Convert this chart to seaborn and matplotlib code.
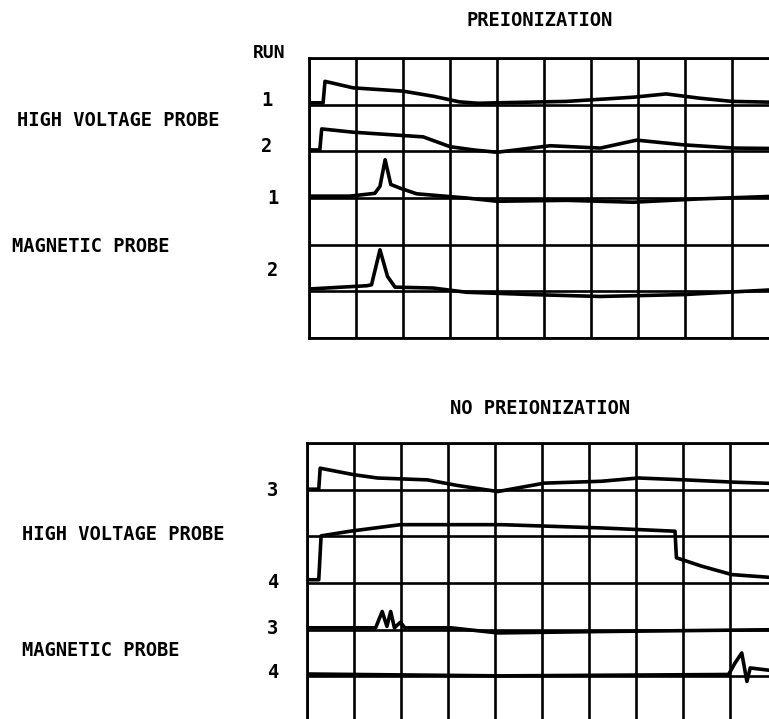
import pandas as pd
import seaborn as sns
import matplotlib.pyplot as plt

# trace data in graticule units (x: 0-10 divisions, y: 0-6 divisions)
# --- PREIONIZATION ---
hv1_x = [0, 0.30, 0.34, 0.94, 2.0, 2.65, 3.2, 3.6, 4.0, 5.48, 6.9, 7.6, 8.3, 9.0, 10]
hv1_y = [5.04, 5.04, 5.50, 5.36, 5.29, 5.18, 5.06, 5.03, 5.04, 5.07, 5.16, 5.23, 5.14, 5.07, 5.05]
hv2_x = [0, 0.23, 0.27, 0.94, 2.43, 3.0, 3.5, 4.0, 5.13, 6.2, 6.97, 7.96, 9.03, 10]
hv2_y = [4.03, 4.03, 4.48, 4.41, 4.31, 4.10, 4.03, 3.98, 4.12, 4.07, 4.24, 4.14, 4.07, 4.06]
mag1_x = [0, 0.87, 1.40, 1.51, 1.62, 1.74, 1.94, 2.29, 3.35, 4.0, 5.48, 6.9, 8.3, 10]
mag1_y = [3.04, 3.04, 3.10, 3.25, 3.82, 3.29, 3.21, 3.09, 3.00, 2.93, 2.95, 2.91, 2.98, 3.04]
mag2_x = [0, 1.23, 1.33, 1.51, 1.67, 1.83, 2.65, 3.35, 4.77, 6.19, 7.96, 10]
mag2_y = [1.05, 1.12, 1.14, 1.89, 1.32, 1.09, 1.07, 0.98, 0.93, 0.89, 0.93, 1.04]

# --- NO PREIONIZATION ---
hv3_x = [0, 0.25, 0.28, 1.0, 1.5, 2.56, 3.2, 4.06, 5.05, 6.26, 7.05, 8.04, 9.1, 10]
hv3_y = [5.01, 5.01, 5.46, 5.32, 5.25, 5.21, 5.09, 4.96, 5.14, 5.18, 5.25, 5.21, 5.16, 5.13]
hv4_x = [0, 0.25, 0.30, 0.92, 1.99, 4.13, 6.26, 7.83, 7.86, 8.4, 9.04, 10]
hv4_y = [3.07, 3.07, 4.01, 4.11, 4.25, 4.25, 4.18, 4.11, 3.54, 3.36, 3.18, 3.11]
mag3_x = [0, 1.46, 1.60, 1.70, 1.78, 1.86, 1.99, 2.08, 3.06, 4.06, 6.26, 10]
mag3_y = [2.04, 2.04, 2.39, 2.07, 2.39, 2.04, 2.16, 2.04, 2.04, 1.93, 1.96, 2.00]
mag4_x = [0, 4.13, 8.97, 9.11, 9.25, 9.36, 9.43, 10]
mag4_y = [1.05, 1.01, 1.04, 1.29, 1.50, 0.89, 1.18, 1.11]

top_traces = [(hv1_x, hv1_y), (hv2_x, hv2_y), (mag1_x, mag1_y), (mag2_x, mag2_y)]
bottom_traces = [(hv3_x, hv3_y), (hv4_x, hv4_y), (mag3_x, mag3_y), (mag4_x, mag4_y)]

W, H = 769, 719
sns.set_style("white")
plt.rcParams['font.family'] = ['DejaVu Sans Mono']

fig = plt.figure(figsize=(W / 100, H / 100), dpi=100)


def scope(left, top, traces):
    ax = fig.add_axes([left / W, 1 - (top + 280) / H, 470 / W, 280 / H])
    for xs, ys in traces:
        df = pd.DataFrame({'t': xs, 'v': ys})
        sns.lineplot(data=df, x='t', y='v', sort=False, estimator=None,
                     color='black', lw=2.6, ax=ax, zorder=3)
    ax.set_xlim(0, 10)
    ax.set_ylim(0, 6)
    ax.set_xticks(range(11))
    ax.set_yticks(range(7))
    ax.tick_params(length=0, labelbottom=False, labelleft=False)
    ax.grid(True, color='black', lw=1.9)
    ax.set_xlabel('')
    ax.set_ylabel('')
    for s in ax.spines.values():
        s.set_color('black')
        s.set_linewidth(2.0)
    return ax


scope(309, 58, top_traces)
scope(307, 443, bottom_traces)


def label(x, y, s, ha='center', size=13.5):
    fig.text(x / W, 1 - y / H, s, ha=ha, va='center', fontsize=size,
             fontweight='bold', color='black')


label(467, 21, 'PREIONIZATION', ha='left', size=13.5)
label(269, 53, 'RUN', size=13)
label(267, 100, '1')
label(17, 121, 'HIGH VOLTAGE PROBE', ha='left')
label(267, 147, '2')
label(273, 199, '1')
label(12, 246, 'MAGNETIC PROBE', ha='left')
label(273, 270, '2')

label(450, 408, 'NO PREIONIZATION', ha='left', size=13.5)
label(273, 490, '3')
label(22, 535, 'HIGH VOLTAGE PROBE', ha='left')
label(273, 582, '4')
label(273, 628, '3')
label(22, 650, 'MAGNETIC PROBE', ha='left')
label(273, 673, '4')

plt.savefig('out.png', dpi=100)
